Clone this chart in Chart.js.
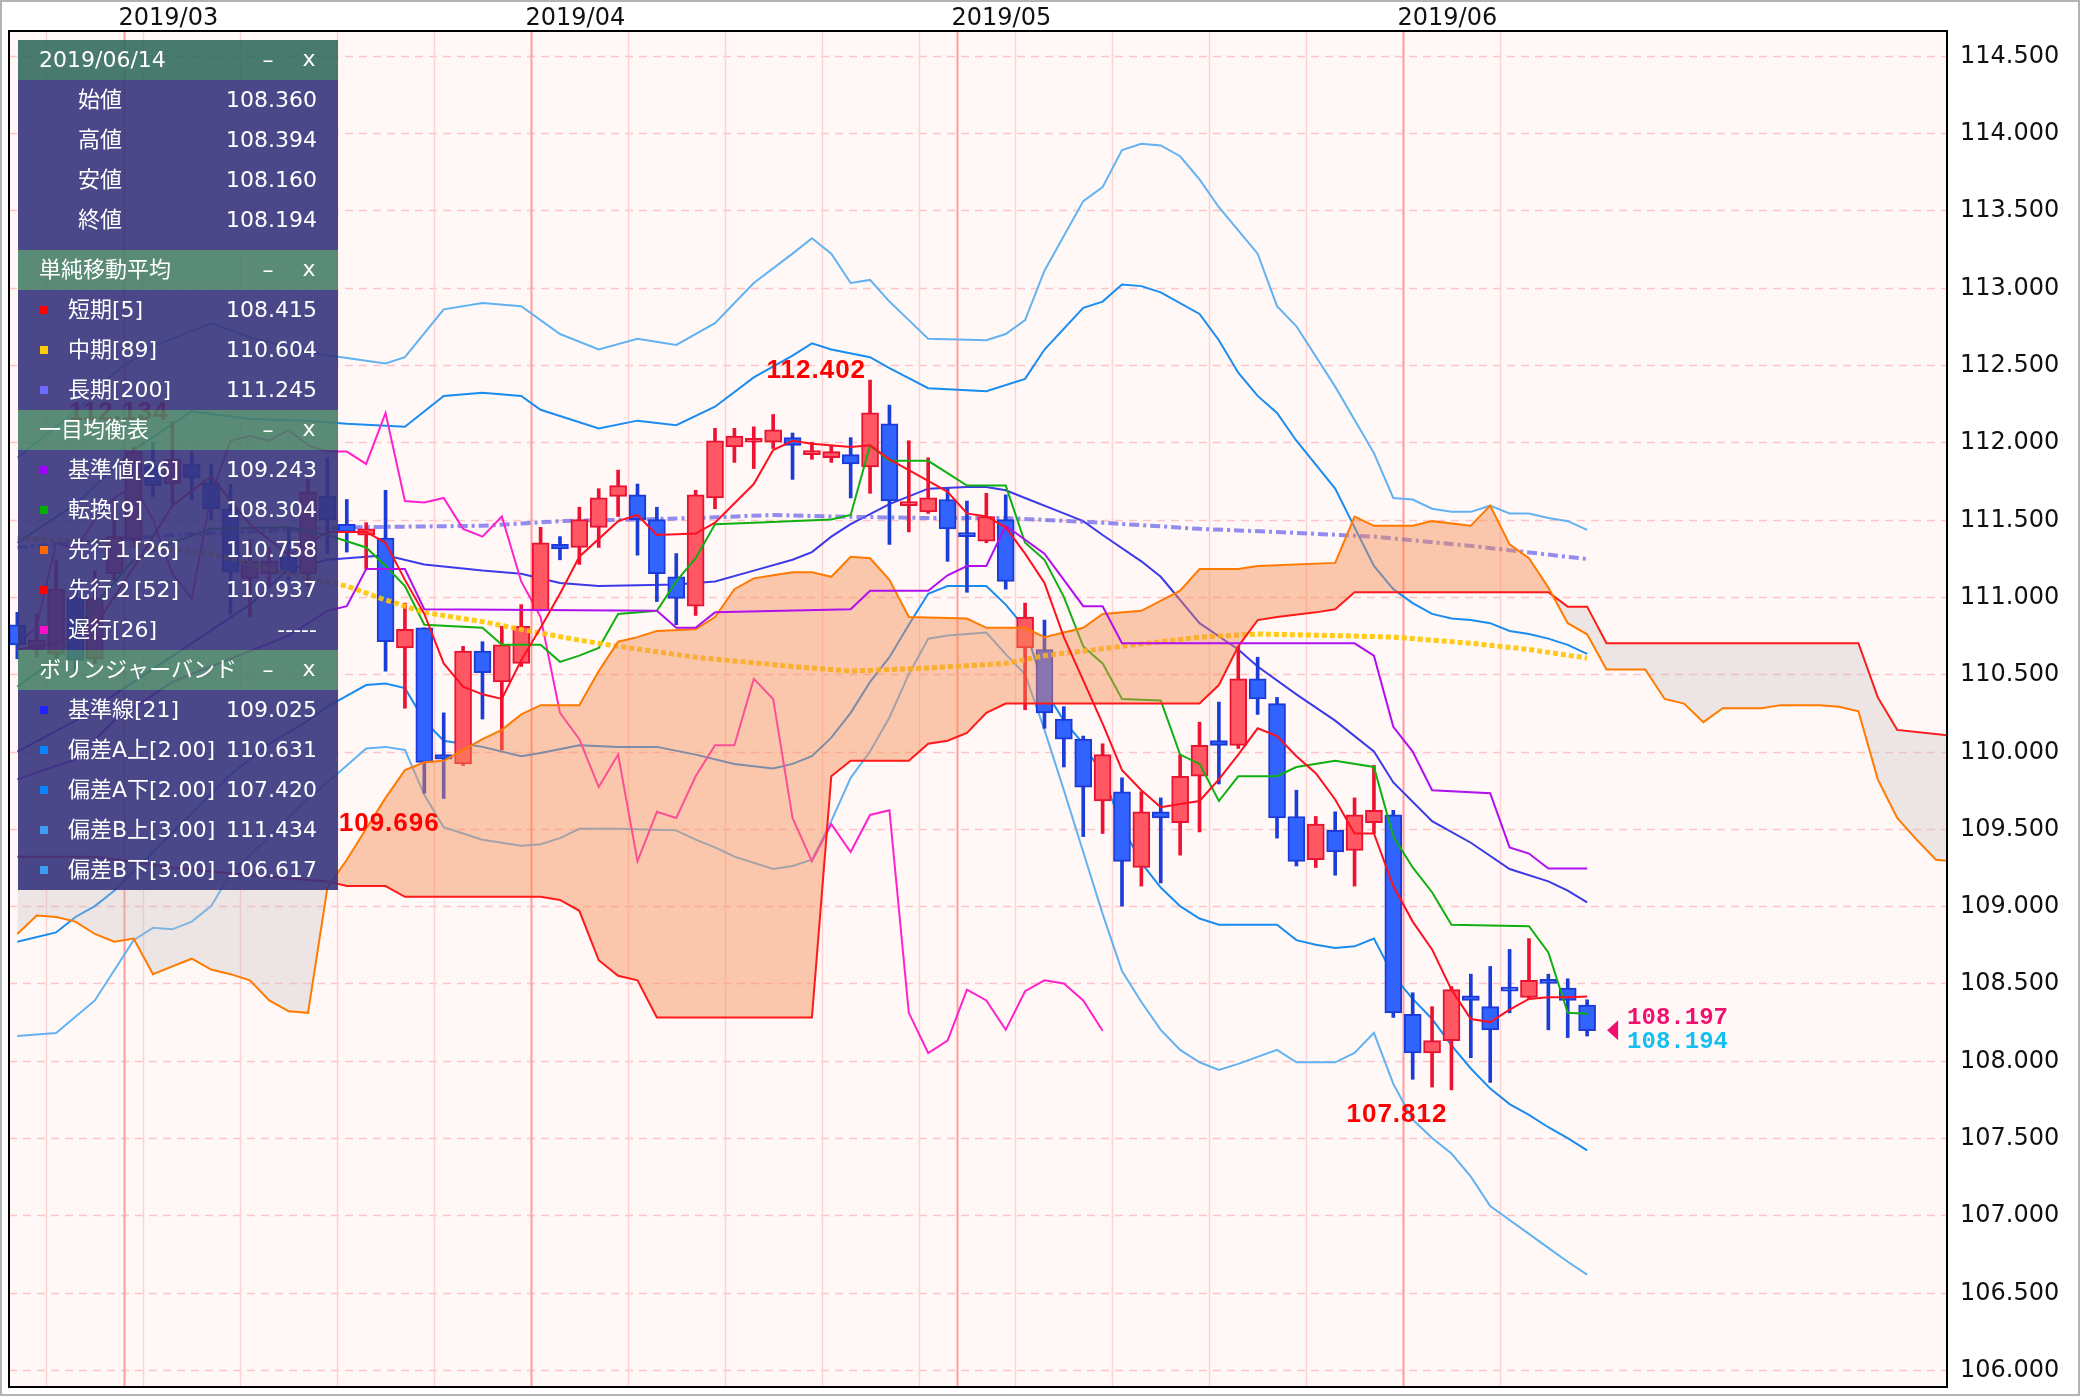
<!DOCTYPE html>
<html>
<head>
<meta charset="utf-8">
<script src="https://cdn.jsdelivr.net/npm/chart.js@4.4.1/dist/chart.umd.min.js"></script>
<style>
  html, body { margin: 0; padding: 0; background: #fff; }
  canvas { display: block; }
</style>
</head>
<body>
<canvas id="chart" width="2080" height="1396"></canvas>
<script>
// === 日付（営業日） ===
const dates = [
  '2019/02/21','2019/02/22','2019/02/25','2019/02/26','2019/02/27','2019/02/28','2019/03/01','2019/03/04','2019/03/05','2019/03/06',
  '2019/03/07','2019/03/08','2019/03/11','2019/03/12','2019/03/13','2019/03/14','2019/03/15','2019/03/18','2019/03/19','2019/03/20',
  '2019/03/21','2019/03/22','2019/03/25','2019/03/26','2019/03/27','2019/03/28','2019/03/29','2019/04/01','2019/04/02','2019/04/03',
  '2019/04/04','2019/04/05','2019/04/08','2019/04/09','2019/04/10','2019/04/11','2019/04/12','2019/04/15','2019/04/16','2019/04/17',
  '2019/04/18','2019/04/19','2019/04/22','2019/04/23','2019/04/24','2019/04/25','2019/04/26','2019/04/29','2019/04/30','2019/05/01',
  '2019/05/02','2019/05/03','2019/05/06','2019/05/07','2019/05/08','2019/05/09','2019/05/10','2019/05/13','2019/05/14','2019/05/15',
  '2019/05/16','2019/05/17','2019/05/20','2019/05/21','2019/05/22','2019/05/23','2019/05/24','2019/05/27','2019/05/28','2019/05/29',
  '2019/05/30','2019/05/31','2019/06/03','2019/06/04','2019/06/05','2019/06/06','2019/06/07','2019/06/10','2019/06/11','2019/06/12',
  '2019/06/13','2019/06/14'
];

// === ローソク足 ===
const opens = [
  110.82,110.66,110.63,110.99,110.60,111.15,111.37,111.85,111.73,111.86,
  111.74,111.57,111.12,111.15,111.26,111.15,111.65,111.47,111.40,111.38,
  110.67,110.80,109.98,109.92,110.65,110.45,110.57,110.91,111.34,111.32,
  111.45,111.65,111.66,111.50,111.13,110.94,111.64,111.97,112.00,112.00,
  112.03,111.92,111.90,111.92,111.84,112.12,111.59,111.55,111.63,111.40,
  111.36,111.50,110.67,110.66,110.21,110.08,109.68,109.74,109.25,109.61,
  109.54,109.84,110.07,110.04,110.47,110.31,109.58,109.30,109.49,109.36,
  109.54,109.59,108.30,108.05,108.13,108.42,108.35,108.47,108.41,108.52,
  108.47,108.360
];
const highs = [
  110.90,110.89,111.24,111.11,111.17,111.63,111.97,112.00,112.134,111.94,
  111.86,111.73,111.37,111.32,111.45,111.76,111.90,111.63,111.48,111.69,
  110.96,110.80,110.25,110.68,110.71,110.81,110.95,111.45,111.39,111.58,
  111.70,111.82,111.73,111.58,111.28,111.69,112.09,112.09,112.10,112.18,
  112.06,112.00,111.98,112.03,112.402,112.24,112.01,111.90,111.70,111.62,
  111.67,111.66,110.96,110.85,110.29,110.10,110.05,109.83,109.74,109.70,
  109.98,110.19,110.32,110.68,110.61,110.35,109.75,109.58,109.61,109.70,
  109.91,109.62,108.44,108.35,108.48,108.56,108.61,108.72,108.79,108.56,
  108.53,108.394
];
const lows = [
  110.60,110.61,110.61,110.50,110.57,111.11,111.32,111.65,111.60,111.63,
  111.50,110.89,110.87,111.07,111.11,111.07,111.28,111.29,111.18,110.52,
  110.28,109.73,109.696,109.91,110.21,110.01,110.55,110.91,111.24,111.21,
  111.32,111.52,111.27,110.97,110.82,110.88,111.57,111.87,111.83,111.96,
  111.76,111.89,111.87,111.64,111.67,111.34,111.42,111.54,111.23,111.03,
  111.35,111.05,110.27,110.15,109.90,109.45,109.47,109.00,109.13,109.15,
  109.33,109.48,109.79,110.02,110.24,109.44,109.26,109.25,109.20,109.13,
  109.47,108.28,107.88,107.83,107.812,108.02,107.86,108.31,108.40,108.20,
  108.15,108.160
];
const closes = [
  110.69,110.72,111.05,110.59,110.99,111.39,111.94,111.72,111.89,111.77,
  111.57,111.16,111.23,111.23,111.15,111.68,111.50,111.42,111.44,110.71,
  110.79,109.93,109.95,110.65,110.51,110.69,110.81,111.35,111.31,111.50,
  111.64,111.72,111.50,111.15,110.99,111.66,112.01,112.04,112.01,112.08,
  111.98,111.94,111.94,111.86,112.19,111.62,111.61,111.64,111.44,111.39,
  111.52,111.10,110.87,110.25,110.08,109.77,109.98,109.29,109.61,109.57,
  109.84,110.04,110.04,110.47,110.34,109.57,109.29,109.53,109.35,109.59,
  109.62,108.31,108.05,108.13,108.46,108.39,108.20,108.45,108.52,108.50,
  108.39,108.194
];
const bidPrice = 108.197;

// === 移動平均 [足番号, 値] ===
const sma5 = [[0,110.66],[2,110.7],[4,110.81],[6,111.19],[8,111.59],[10,111.78],[12,111.47],[14,111.27],[16,111.42],[18,111.42],
  [19,111.35],[20,111.11],[21,110.89],[22,110.57],[23,110.42],[24,110.37],[25,110.34],[26,110.59],[27,110.8],[28,111.02],[29,111.26],
  [31,111.49],[32,111.53],[33,111.4],[35,111.41],[36,111.48],[38,111.73],[39,111.95],[40,112.01],[41,111.99],[43,111.97],[44,111.98],
  [45,111.89],[46,111.82],[47,111.75],[48,111.68],[49,111.54],[50,111.52],[51,111.45],[52,111.28],[53,111.09],[54,110.74],[55,110.46],
  [56,110.18],[57,109.88],[58,109.75],[59,109.64],[60,109.66],[61,109.68],[62,109.82],[63,109.98],[64,110.15],[65,110.1],[66,109.97],
  [67,109.86],[68,109.69],[69,109.47],[70,109.47],[71,109.13],[72,108.9],[73,108.72],[74,108.46],[75,108.27],[76,108.25],[77,108.33],
  [78,108.4],[79,108.41],[80,108.41],[81,108.415]];
const sma89 = [[0,111.38],[5,111.35],[10,111.28],[14,111.15],[17,111.07],[19,110.98],[21,110.9],[24,110.84],[26,110.79],[29,110.72],
  [31,110.68],[35,110.61],[40,110.55],[43,110.52],[47,110.54],[51,110.57],[53,110.62],[57,110.68],[61,110.74],[64,110.76],[68,110.75],
  [71,110.74],[75,110.7],[78,110.66],[81,110.604]];
const sma200 = [[0,111.32],[8,111.4],[17,111.45],[24,111.46],[28,111.49],[35,111.51],[39,111.53],[42,111.52],[47,111.51],[51,111.51],
  [56,111.48],[61,111.44],[65,111.42],[70,111.39],[75,111.33],[81,111.245]];

// === 一目均衡表 ===
const tenkan = [[0,110.42],[2,110.6],[4,110.95],[6,111.24],[8,111.35],[10,111.44],[14,111.45],[16,111.4],[17,111.36],[18,111.32],
  [19,111.2],[20,111.07],[21,110.82],[24,110.8],[25,110.69],[27,110.69],[28,110.58],[29,110.62],[30,110.67],[31,110.89],[33,110.91],
  [34,111.1],[35,111.25],[36,111.47],[38,111.48],[42,111.5],[43,111.53],[44,111.98],[45,111.88],[47,111.88],[48,111.8],[49,111.72],
  [51,111.72],[52,111.35],[53,111.24],[54,111.0],[55,110.68],[56,110.57],[57,110.34],[59,110.33],[60,109.98],[61,109.92],[62,109.68],
  [63,109.84],[65,109.84],[66,109.9],[68,109.94],[70,109.9],[71,109.45],[72,109.25],[73,109.09],[74,108.88],[78,108.87],[79,108.7],
  [80,108.31],[81,108.304]];
const kijun = [[0,109.82],[3,109.95],[5,110.2],[8,110.45],[11,110.6],[14,110.75],[16,110.91],[17,110.94],[18,111.18],[20,111.18],
  [21,110.92],[33,110.91],[34,110.8],[35,110.8],[36,110.9],[43,110.92],[44,111.04],[47,111.04],[48,111.14],[49,111.2],[50,111.2],
  [51,111.46],[53,111.28],[54,111.11],[55,110.94],[56,110.94],[57,110.7],[69,110.7],[70,110.62],[71,110.16],[72,110.0],[73,109.75],
  [76,109.73],[77,109.38],[78,109.34],[79,109.243],[81,109.243]];
const senkouA = [[0,108.82],[1,108.94],[2,108.93],[3,108.9],[4,108.82],[5,108.77],[6,108.79],[7,108.56],[8,108.61],[9,108.66],
  [10,108.59],[11,108.56],[12,108.52],[13,108.39],[14,108.32],[15,108.31],[16,109.12],[17,109.3],[18,109.5],[19,109.7],[20,109.88],
  [21,109.93],[22,109.94],[23,110.01],[24,110.08],[25,110.14],[26,110.24],[27,110.3],[29,110.3],[30,110.52],[31,110.71],[32,110.74],
  [33,110.78],[35,110.79],[36,110.87],[37,111.05],[38,111.12],[39,111.14],[40,111.16],[41,111.16],[42,111.13],[43,111.26],[44,111.25],
  [45,111.11],[46,110.87],[49,110.86],[50,110.8],[52,110.8],[53,110.74],[54,110.77],[55,110.8],[56,110.89],[58,110.91],[60,111.04],
  [61,111.18],[63,111.18],[64,111.2],[68,111.22],[69,111.52],[70,111.46],[72,111.46],[73,111.49],[75,111.46],[76,111.59],[77,111.34],
  [78,111.25],[79,111.06],[80,110.83],[81,110.758],[82,110.53],[84,110.53],[85,110.34],[86,110.31],[87,110.19],[88,110.28],[90,110.28],
  [91,110.3],[93,110.3],[94,110.29],[95,110.26],[96,109.82],[97,109.57],[98,109.43],[99,109.3],[100,109.29]];
const senkouB = [[0,109.32],[4,109.32],[8,109.25],[12,109.2],[16,109.16],[17,109.13],[19,109.13],[20,109.06],[27,109.06],[28,109.04],
  [29,108.97],[30,108.65],[31,108.55],[32,108.52],[33,108.28],[41,108.28],[42,109.84],[43,109.94],[46,109.94],[47,110.05],[48,110.07],
  [49,110.12],[50,110.25],[51,110.31],[61,110.31],[62,110.43],[63,110.68],[64,110.85],[65,110.87],[67,110.9],[68,110.92],[69,111.03],
  [79,111.03],[80,110.937],[81,110.937],[82,110.7],[95,110.7],[96,110.35],[97,110.14],[100,110.1]];

// === ボリンジャーバンド ===
const bbMid = [[0,110.0],[3,110.2],[6,110.45],[9,110.7],[12,110.95],[14,111.18],[16,111.24],[19,111.27],[21,111.21],[24,111.17],
  [26,111.15],[28,111.09],[30,111.07],[34,111.08],[36,111.1],[38,111.17],[40,111.24],[41,111.29],[42,111.39],[43,111.47],[45,111.6],
  [47,111.7],[49,111.71],[50,111.71],[51,111.69],[52,111.64],[54,111.54],[55,111.49],[56,111.4],[58,111.23],[59,111.13],[61,110.83],
  [63,110.66],[64,110.55],[66,110.37],[68,110.2],[70,110.0],[71,109.8],[73,109.55],[75,109.41],[77,109.24],[79,109.16],[80,109.1],
  [81,109.025]];
const bbUp2 = [[0,111.35],[3,111.6],[6,111.95],[9,112.2],[12,112.15],[15,112.14],[17,112.12],[20,112.1],[22,112.3],[24,112.32],
  [26,112.3],[27,112.21],[30,112.09],[32,112.14],[34,112.11],[36,112.23],[38,112.42],[40,112.56],[41,112.64],[42,112.6],[44,112.55],
  [45,112.48],[47,112.35],[50,112.33],[52,112.41],[53,112.6],[55,112.87],[56,112.91],[57,113.02],[58,113.01],[59,112.97],[61,112.83],
  [62,112.66],[63,112.45],[64,112.3],[65,112.19],[66,112.01],[68,111.7],[70,111.2],[71,111.05],[72,110.96],[73,110.89],[74,110.86],
  [75,110.85],[76,110.83],[77,110.78],[78,110.76],[79,110.73],[80,110.69],[81,110.631]];
const bbLo2 = [[0,108.77],[2,108.83],[3,108.93],[4,109.0],[5,109.1],[7,109.35],[9,109.6],[11,109.85],[13,110.05],[15,110.2],
  [16,110.29],[18,110.43],[19,110.44],[20,110.41],[21,110.2],[22,110.07],[24,110.03],[26,109.97],[27,109.99],[29,110.04],[31,110.03],
  [33,110.03],[35,109.98],[37,109.92],[39,109.89],[40,109.92],[41,109.97],[42,110.09],[43,110.25],[44,110.45],[45,110.61],[46,110.82],
  [47,111.02],[48,111.07],[50,111.07],[51,110.95],[52,110.8],[53,110.4],[54,110.2],[55,110.05],[56,109.85],[57,109.52],[58,109.28],
  [59,109.12],[60,109.0],[61,108.92],[62,108.88],[63,108.88],[65,108.88],[66,108.78],[67,108.75],[68,108.73],[69,108.74],[70,108.79],
  [71,108.55],[72,108.4],[73,108.27],[74,108.1],[75,107.95],[76,107.82],[77,107.72],[78,107.65],[79,107.57],[80,107.5],[81,107.42]];
const bbUp3 = [[0,111.9],[3,112.2],[5,112.45],[7,112.62],[10,112.77],[12,112.68],[15,112.58],[19,112.51],[20,112.55],[22,112.86],
  [24,112.9],[26,112.88],[28,112.7],[30,112.6],[32,112.67],[34,112.63],[36,112.77],[38,113.03],[40,113.22],[41,113.32],[42,113.22],
  [43,113.03],[44,113.05],[45,112.91],[46,112.79],[47,112.67],[50,112.66],[51,112.7],[52,112.79],[53,113.11],[55,113.56],[56,113.65],
  [57,113.89],[58,113.93],[59,113.92],[60,113.85],[61,113.7],[62,113.52],[64,113.22],[65,112.88],[66,112.75],[68,112.36],[70,111.93],
  [71,111.64],[72,111.63],[73,111.57],[74,111.55],[75,111.55],[76,111.59],[77,111.54],[78,111.54],[79,111.51],[80,111.49],[81,111.434]];
const bbLo3 = [[0,108.16],[2,108.18],[4,108.39],[6,108.78],[7,108.86],[8,108.85],[9,108.9],[10,109.0],[11,109.21],[13,109.45],
  [15,109.7],[16,109.8],[18,110.02],[19,110.03],[20,110.01],[21,109.72],[22,109.51],[23,109.47],[24,109.43],[26,109.39],[27,109.4],
  [28,109.44],[29,109.5],[31,109.5],[34,109.49],[35,109.43],[36,109.38],[37,109.32],[39,109.24],[40,109.26],[41,109.3],[42,109.55],
  [43,109.83],[44,110.0],[45,110.22],[46,110.5],[47,110.73],[48,110.75],[50,110.77],[51,110.63],[52,110.5],[53,110.14],[54,109.75],
  [55,109.35],[56,108.95],[57,108.58],[58,108.38],[59,108.2],[60,108.07],[61,107.99],[62,107.94],[63,107.98],[65,108.07],[66,107.99],
  [68,107.99],[69,108.05],[70,108.18],[71,107.85],[72,107.62],[73,107.5],[74,107.4],[75,107.25],[76,107.06],[77,106.97],[78,106.88],
  [79,106.79],[80,106.7],[81,106.617]];

// === 目盛りとラベル ===
const priceTicks = [106, 106.5, 107, 107.5, 108, 108.5, 109, 109.5, 110, 110.5, 111, 111.5, 112, 112.5, 113, 113.5, 114, 114.5];
const peakMarks = [[8, 'high'], [44, 'high'], [22, 'low'], [74, 'low']];

const last = closes.length - 1;
const panelSections = [
  { title: dates[last], pad: 10, rows: [
    ['始値', opens[last]], ['高値', highs[last]], ['安値', lows[last]], ['終値', closes[last]] ] },
  { title: '単純移動平均', rows: [
    ['短期[5]', 108.415, '#ff0000'], ['中期[89]', 110.604, '#ffcc00'], ['長期[200]', 111.245, '#6c6cff'] ] },
  { title: '一目均衡表', rows: [
    ['基準値[26]', 109.243, '#a000ff'], ['転換[9]', 108.304, '#00b000'], ['先行１[26]', 110.758, '#ff6a00'],
    ['先行２[52]', 110.937, '#ff0000'], ['遅行[26]', null, '#ff10c8'] ] },
  { title: 'ボリンジャーバンド', rows: [
    ['基準線[21]', 109.025, '#2222ff'], ['偏差A上[2.00]', 110.631, '#0a84ff'], ['偏差A下[2.00]', 107.420, '#0a84ff'],
    ['偏差B上[3.00]', 111.434, '#3d9df0'], ['偏差B下[3.00]', 106.617, '#3d9df0'] ] }
];

// === データセット ===
const toPoints = list => list.map(([x, y]) => ({ x, y }));
const isUp = closes.map((c, i) => c >= opens[i]);
const lineBase = { type: 'line', pointRadius: 0, borderWidth: 2, fill: false, tension: 0 };

const datasets = [
  { ...lineBase, label: '偏差B上', data: toPoints(bbUp3), borderColor: '#62b2f2', order: 100 },
  { ...lineBase, label: '偏差B下', data: toPoints(bbLo3), borderColor: '#62b2f2', order: 100 },
  { ...lineBase, label: '偏差A上', data: toPoints(bbUp2), borderColor: '#1a8cf0', order: 99 },
  { ...lineBase, label: '偏差A下', data: toPoints(bbLo2), borderColor: '#1a8cf0', order: 99 },
  { ...lineBase, label: '基準線', data: toPoints(bbMid), borderColor: '#3a3aea', order: 98 },
  { ...lineBase, label: '長期', data: toPoints(sma200), borderColor: 'rgba(110,104,236,0.75)', borderWidth: 4,
    borderDash: [10, 4, 3, 4], order: 95 },
  { ...lineBase, label: '遅行', data: closes.slice(25).map((c, i) => ({ x: i, y: c })), borderColor: '#ff22cc', order: 90 },
  { type: 'bar', label: 'ヒゲ', data: lows.map((l, i) => ({ x: i, y: [l, highs[i]] })),
    backgroundColor: isUp.map(u => u ? '#ee1232' : '#1c3cd8'), barThickness: 3, grouped: false, order: 86 },
  { type: 'bar', label: '実体', data: opens.map((o, i) => ({ x: i, y: [o, closes[i]] })),
    backgroundColor: isUp.map(u => u ? '#ff5864' : '#3163ff'), borderColor: isUp.map(u => u ? '#ea1230' : '#1c3bd6'),
    borderWidth: 2, borderSkipped: false, barThickness: 17, minBarLength: 4, grouped: false, order: 85 },
  { ...lineBase, label: '転換', data: toPoints(tenkan), borderColor: '#10b010', order: 80 },
  { ...lineBase, label: '中期', data: toPoints(sma89), borderColor: 'rgba(255,196,0,0.9)', borderWidth: 5,
    borderDash: [5, 3], order: 79 },
  { ...lineBase, label: '雲', data: toPoints(senkouA), borderColor: 'rgba(0,0,0,0)', borderWidth: 0,
    fill: { target: 0, above: 'rgba(247,140,80,0.45)', below: 'rgba(195,190,190,0.32)' }, order: 72 },
  { ...lineBase, label: '先行2', data: toPoints(senkouB), borderColor: '#ff1a1a', order: 71 },
  { ...lineBase, label: '先行1', data: toPoints(senkouA), borderColor: '#ff7a00', order: 70 },
  { ...lineBase, label: '基準値', data: toPoints(kijun), borderColor: '#b010f0', order: 60 },
  { ...lineBase, label: '短期', data: toPoints(sma5), borderColor: '#ff1020', order: 59 }
];
datasets.find(d => d.label === '雲').fill.target = datasets.findIndex(d => d.label === '先行2');

// === 背景・罫線・文字・パネル ===
const deco = {
  id: 'deco',
  beforeDraw(chart) {
    const { ctx, chartArea: a, scales: { x, y } } = chart;
    ctx.save();
    ctx.fillStyle = '#ffffff';
    ctx.fillRect(0, 0, chart.width, chart.height);
    ctx.strokeStyle = '#b3b3b3';
    ctx.lineWidth = 2;
    ctx.strokeRect(1, 1, chart.width - 2, chart.height - 2);
    ctx.fillStyle = '#fff8f7';
    ctx.fillRect(a.left, a.top, a.width, a.height);

    // 横の点線と価格ラベル
    ctx.font = '24px "DejaVu Sans"';
    ctx.fillStyle = '#111';
    ctx.textBaseline = 'middle';
    ctx.textAlign = 'left';
    priceTicks.forEach(v => {
      const py = Math.round(y.getPixelForValue(v)) + 0.5;
      ctx.strokeStyle = '#ffc4c4';
      ctx.lineWidth = 1.5;
      ctx.setLineDash([8, 6]);
      ctx.beginPath();
      ctx.moveTo(a.left, py);
      ctx.lineTo(a.right, py);
      ctx.stroke();
      ctx.fillText(v.toFixed(3), a.right + 13, py);
    });
    ctx.setLineDash([]);

    // 週の線と月の線
    dates.forEach((d, i) => {
      const day = new Date(d.replace(/\//g, '-') + 'T00:00:00');
      const newMonth = i > 0 && d.slice(5, 7) !== dates[i - 1].slice(5, 7);
      if (!newMonth && day.getDay() !== 1) return;
      const px = Math.round(x.getPixelForValue(i - 0.5)) + 0.5;
      ctx.strokeStyle = newMonth ? '#ff9c9c' : '#ffd2d2';
      ctx.lineWidth = newMonth ? 2 : 1.5;
      ctx.beginPath();
      ctx.moveTo(px, a.top);
      ctx.lineTo(px, a.bottom);
      ctx.stroke();
      if (newMonth) {
        ctx.fillStyle = '#111';
        ctx.fillText(d.slice(0, 7), px - 6, 19);
      }
    });
    ctx.restore();
  },
  afterDatasetsDraw(chart) {
    const { ctx, chartArea: a, scales: { x, y } } = chart;
    ctx.save();
    ctx.strokeStyle = '#000';
    ctx.lineWidth = 2;
    ctx.strokeRect(a.left, a.top, a.width, a.height);

    // 高値・安値
    ctx.font = 'bold 26px "Liberation Sans"';
    if ('letterSpacing' in ctx) ctx.letterSpacing = '1px';
    ctx.fillStyle = '#ff0000';
    ctx.textAlign = 'right';
    ctx.textBaseline = 'alphabetic';
    peakMarks.forEach(([i, kind]) => {
      const px = x.getPixelForValue(i) - 4;
      if (kind === 'high') ctx.fillText(highs[i].toFixed(3), px, y.getPixelForValue(highs[i]) - 2);
      else ctx.fillText(lows[i].toFixed(3), px, y.getPixelForValue(lows[i]) + 32);
    });
    if ('letterSpacing' in ctx) ctx.letterSpacing = '0px';

    // 現在値
    const py = y.getPixelForValue(bidPrice);
    const tx = x.getPixelForValue(last) + 20;
    ctx.fillStyle = '#f0106e';
    ctx.beginPath();
    ctx.moveTo(tx, py);
    ctx.lineTo(tx + 11, py - 10);
    ctx.lineTo(tx + 11, py + 10);
    ctx.closePath();
    ctx.fill();
    ctx.font = 'bold 24px "Liberation Mono"';
    ctx.textAlign = 'left';
    ctx.textBaseline = 'middle';
    ctx.fillText(bidPrice.toFixed(3), tx + 20, py - 12);
    ctx.fillStyle = '#12bff0';
    ctx.fillText(closes[last].toFixed(3), tx + 20, py + 12);
    ctx.restore();
  },
  afterDraw(chart) {
    const { ctx } = chart;
    const left = 18, right = 338;
    let top = 40;
    ctx.save();
    ctx.font = '22px "DejaVu Sans", "Noto Sans CJK JP"';
    ctx.textBaseline = 'middle';
    panelSections.forEach((sec, k) => {
      ctx.fillStyle = k === 0 ? 'rgba(52,108,93,0.9)' : 'rgba(72,126,104,0.9)';
      ctx.fillRect(left, top, right - left, 40);
      ctx.fillStyle = '#ffffff';
      ctx.textAlign = 'left';
      ctx.fillText(sec.title, 39, top + 21);
      ctx.textAlign = 'center';
      ctx.fillText('–', 268, top + 21);
      ctx.fillText('x', 309, top + 20);
      top += 40;

      const bodyH = sec.rows.length * 40 + (sec.pad || 0);
      ctx.fillStyle = 'rgba(55,52,124,0.9)';
      ctx.fillRect(left, top, right - left, bodyH);
      sec.rows.forEach(([name, val, color], r) => {
        const cy = top + 20 + r * 40;
        if (color) {
          ctx.fillStyle = color;
          ctx.fillRect(40, cy - 4, 8, 8);
        }
        ctx.fillStyle = '#ffffff';
        ctx.textAlign = 'left';
        ctx.fillText(name, color ? 68 : 78, cy + 1);
        ctx.textAlign = 'right';
        ctx.fillText(val === null ? '-----' : val.toFixed(3), 317, cy + 1);
      });
      top += bodyH;
    });
    ctx.restore();
  }
};

new Chart(document.getElementById('chart'), {
  type: 'line',
  data: { datasets },
  options: {
    responsive: false,
    animation: false,
    devicePixelRatio: 1,
    layout: { padding: { left: 9, top: 31, right: 133, bottom: 9 } },
    scales: {
      x: { type: 'linear', min: -0.43, max: 99.57, offset: false, display: false },
      y: { type: 'linear', min: 105.89, max: 114.66, display: false }
    },
    plugins: {
      legend: { display: false },
      tooltip: { enabled: false }
    }
  },
  plugins: [deco]
});
</script>
</body>
</html>
